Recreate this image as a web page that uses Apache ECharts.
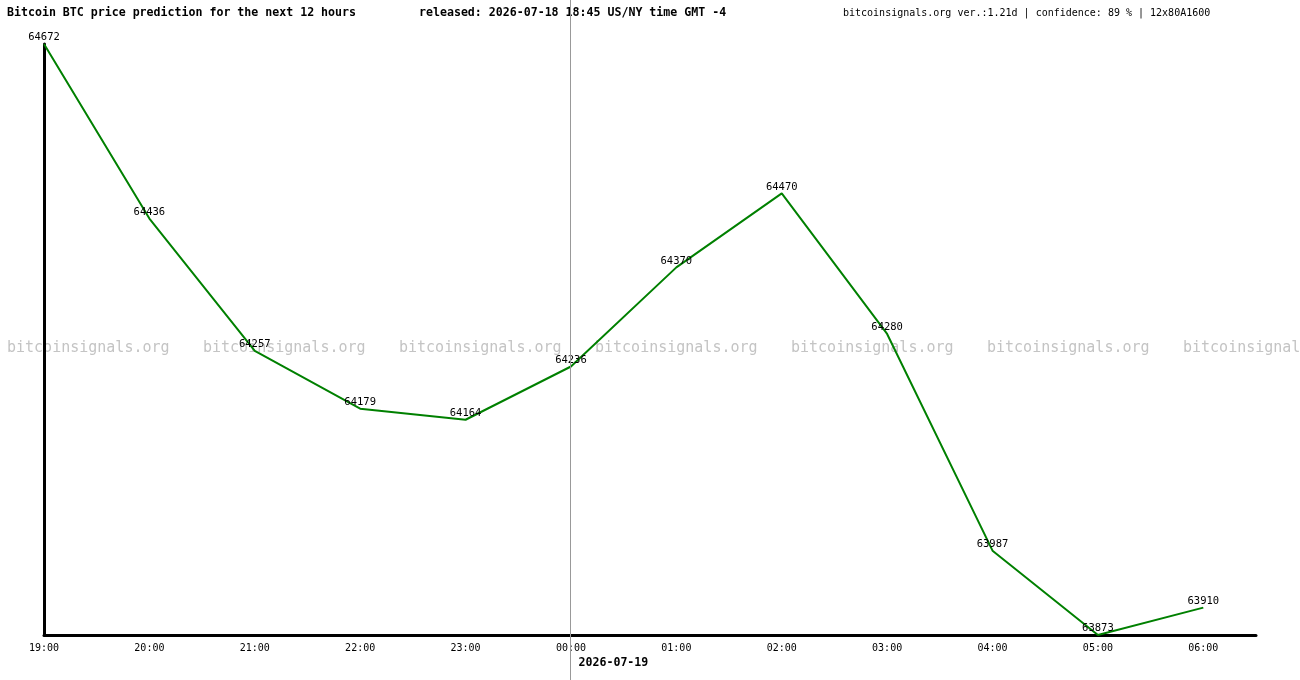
<!DOCTYPE html>
<html>
<head>
<meta charset="utf-8">
<style>
  html, body { margin: 0; padding: 0; background: #fff; }
  #chart { width: 1300px; height: 680px; }
</style>
<script src="https://cdn.jsdelivr.net/npm/echarts@6/dist/echarts.min.js"></script>
</head>
<body>
<div id="chart"></div>
<script>
// hourly labels and predicted prices
const hours = ["19:00", "20:00", "21:00", "22:00", "23:00", "00:00", "01:00", "02:00", "03:00", "04:00", "05:00", "06:00"];
const prices = [64672, 64436, 64257, 64179, 64164, 64236, 64370, 64470, 64280, 63987, 63873, 63910];
const dayBreakIndex = 5;
const dayLabel = "2026-07-19";

const mono = "DejaVu Sans Mono";
const chart = echarts.init(document.getElementById("chart"));

// watermark row
const marks = [];
for (let k = 0; k < 7; k++) {
	marks.push({
		type: "text",
		z: -1,
		left: 7 + k * 196,
		top: 341,
		style: { text: "bitcoinsignals.org", font: "15px " + mono, fill: "#c4c4c4" }
	});
}

const option = {
	animation: false,
	title: [
		{
			text: "Bitcoin BTC price prediction for the next 12 hours",
			left: 7, top: 7, padding: 0,
			textStyle: { fontFamily: mono, fontSize: 11.6, fontWeight: "bold", color: "#000" }
		},
		{
			text: "released: 2026-07-18 18:45 US/NY time GMT -4",
			left: 419, top: 7, padding: 0,
			textStyle: { fontFamily: mono, fontSize: 11.6, fontWeight: "bold", color: "#000" }
		},
		{
			text: "bitcoinsignals.org ver.:1.21d | confidence: 89 % | 12x80A1600",
			left: 843, top: 8, padding: 0,
			textStyle: { fontFamily: mono, fontSize: 10, fontWeight: "normal", color: "#000" }
		}
	],
	grid: { left: 44, right: 44, top: 44, bottom: 45 },
	xAxis: {
		type: "value",
		min: 0,
		max: 11.5,
		interval: 1,
		splitLine: { show: false },
		axisTick: { show: false },
		axisLine: { lineStyle: { color: "#000", width: 3 } },
		axisLabel: {
			margin: 8,
			color: "#000",
			fontFamily: mono,
			fontSize: 10,
			showMaxLabel: false,
			formatter: v => (Number.isInteger(v) && hours[v]) ? hours[v] : ""
		}
	},
	yAxis: {
		type: "value",
		min: 63873,
		max: 64672,
		splitLine: { show: false },
		axisTick: { show: false },
		axisLabel: { show: false },
		axisLine: { show: true, lineStyle: { color: "#000", width: 3 } }
	},
	graphic: marks,
	series: [
		{
			type: "line",
			data: prices.map((p, i) => [i, p]),
			showSymbol: true,
			symbol: "circle",
			symbolSize: 0,
			lineStyle: { color: "#008000", width: 2 },
			itemStyle: { color: "#008000" },
			label: {
				show: true,
				position: "top",
				distance: 1,
				color: "#000",
				fontFamily: mono,
				fontSize: 10.5,
				formatter: p => p.value[1]
			},
			labelLayout: { hideOverlap: false },
			z: 3
		}
	]
};
chart.setOption(option);

// day separator line spanning the full height, plus date label
const sepX = Math.round(chart.convertToPixel({ xAxisIndex: 0 }, dayBreakIndex)) - 0.5;
chart.setOption({
	graphic: marks.concat([
		{
			type: "line",
			z: 10,
			shape: { x1: sepX, y1: 0, x2: sepX, y2: 680 },
			style: { stroke: "#999", lineWidth: 1 }
		},
		{
			type: "text",
			left: sepX + 8,
			top: 657,
			style: { text: dayLabel, font: "bold 11.6px " + mono, fill: "#000" }
		}
	])
});
</script>
</body>
</html>
